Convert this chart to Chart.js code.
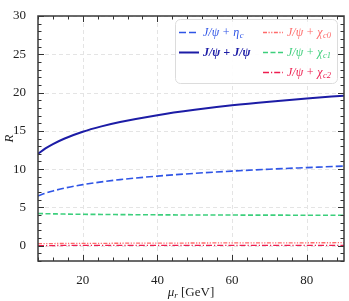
<!DOCTYPE html>
<html>
<head>
<meta charset="UTF-8">
<title>R vs mu_r</title>
<script src="https://cdn.jsdelivr.net/npm/chart.js"></script>
<style>
  body { margin: 0; background: #fff; }
  #c { display: block; }
</style>
</head>
<body>
<canvas id="c" width="349" height="301"></canvas>
<script>
// values
const muR = [8, 10, 12, 15, 20, 25, 30, 40, 50, 60, 70, 80, 90];
const psiPsi = [12.0, 12.7, 13.27, 13.97, 14.88, 15.58, 16.15, 17.05, 17.75, 18.33, 18.81, 19.23, 19.6];
const psiEtac = [6.5, 6.86, 7.15, 7.51, 7.98, 8.33, 8.63, 9.09, 9.45, 9.74, 9.99, 10.2, 10.4];
const psiChic0 = [0.26, 0.27, 0.28, 0.29, 0.30, 0.31, 0.32, 0.34, 0.35, 0.36, 0.37, 0.38, 0.39];
const psiChic1 = [4.20, 4.18, 4.16, 4.13, 4.10, 4.08, 4.06, 4.03, 4.01, 4.00, 3.99, 3.98, 3.97];
const psiChic2 = [0.02, 0.02, 0.02, 0.03, 0.03, 0.03, 0.03, 0.04, 0.04, 0.04, 0.05, 0.05, 0.05];
const xTicks = [20, 40, 60, 80];
const yTicks = [0, 5, 10, 15, 20, 25, 30];

const serif = '"Liberation Serif", "DejaVu Serif", serif';
const colors = {
    etac: '#2f55e6',
    psi: '#1c1ca6',
    chic0: '#ff6a6a',
    chic1: '#3ccf7c',
    chic2: '#ee1d4f'
};

function pts(ys) {
    return muR.map((x, i) => ({ x: x, y: ys[i] }));
}

// legend entries: [main text, subscript, color, dash, column, row, width]
const legendItems = [
    ['J/ψ + η', 'c', colors.etac, [7, 3], 0, 0, 1.6],
    ['J/ψ + J/ψ', '', colors.psi, [], 0, 1, 2],
    ['J/ψ + χ', 'c0', colors.chic0, [4, 1.5, 1.2, 1.5, 1.2, 1.5], 1, 0, 1.3],
    ['J/ψ + χ', 'c1', colors.chic1, [5, 2.5], 1, 1, 1.6],
    ['J/ψ + χ', 'c2', colors.chic2, [6, 2, 1.2, 2], 1, 2, 1.3]
];

const framePlugin = {
    id: 'frame',
    beforeDatasetsDraw(chart) {
        const { ctx, chartArea: a, scales } = chart;
        ctx.save();
        // dashed grid
        ctx.strokeStyle = '#e4e4e4';
        ctx.lineWidth = 1;
        ctx.setLineDash([4, 3]);
        xTicks.forEach(v => {
            const px = Math.round(scales.x.getPixelForValue(v)) + 0.5;
            ctx.beginPath(); ctx.moveTo(px, a.top); ctx.lineTo(px, a.bottom); ctx.stroke();
        });
        yTicks.forEach(v => {
            const py = Math.round(scales.y.getPixelForValue(v)) + 0.5;
            ctx.beginPath(); ctx.moveTo(a.left, py); ctx.lineTo(a.right, py); ctx.stroke();
        });
        ctx.restore();
    },
    afterDatasetsDraw(chart) {
        const { ctx, chartArea: a, scales } = chart;
        ctx.save();
        ctx.setLineDash([]);
        ctx.strokeStyle = '#333';
        ctx.lineWidth = 1;
        // inward ticks on all four sides
        for (let v = 8; v <= 90; v += 4) {
            const px = Math.round(scales.x.getPixelForValue(v)) + 0.5;
            const len = (v % 20 === 0) ? 6 : 3.5;
            ctx.beginPath();
            ctx.moveTo(px, a.bottom); ctx.lineTo(px, a.bottom - len);
            ctx.moveTo(px, a.top); ctx.lineTo(px, a.top + len);
            ctx.stroke();
        }
        for (let v = -2; v <= 30; v += 1) {
            const py = Math.round(scales.y.getPixelForValue(v)) + 0.5;
            const len = (v % 5 === 0) ? 6 : 3.5;
            ctx.beginPath();
            ctx.moveTo(a.left, py); ctx.lineTo(a.left + len, py);
            ctx.moveTo(a.right, py); ctx.lineTo(a.right - len, py);
            ctx.stroke();
        }
        // frame
        ctx.lineWidth = 1.5;
        ctx.strokeStyle = '#3a3a3a';
        ctx.strokeRect(a.left, a.top, a.right - a.left, a.bottom - a.top);

        // legend box
        const bx = 175.5, by = 19.5, bw = 162, bh = 64;
        ctx.fillStyle = 'rgba(255,255,255,0.9)';
        ctx.strokeStyle = '#dcdcdc';
        ctx.lineWidth = 1;
        ctx.beginPath();
        ctx.roundRect(bx, by, bw, bh, 5);
        ctx.fill();
        ctx.stroke();

        const colX = [179, 263];
        const rowY = [32.5, 52.5, 72.5];
        legendItems.forEach(([txt, sub, col, dash, c, r, lw]) => {
            const x0 = colX[c], y0 = rowY[r];
            ctx.strokeStyle = col;
            ctx.lineWidth = lw;
            ctx.setLineDash(dash);
            ctx.beginPath(); ctx.moveTo(x0, y0); ctx.lineTo(x0 + 20, y0); ctx.stroke();
            ctx.setLineDash([]);
            ctx.fillStyle = col;
            ctx.textBaseline = 'middle';
            ctx.textAlign = 'left';
            ctx.font = (r === 1 && c === 0 ? 'bold ' : '') + 'italic 12px ' + serif;
            const tx = x0 + 24;
            ctx.fillText(txt, tx, y0);
            if (sub) {
                const w = ctx.measureText(txt).width;
                ctx.font = 'italic 8.5px ' + serif;
                ctx.fillText(sub, tx + w + 0.5, y0 + 3.5);
            }
        });

        // axis titles
        ctx.fillStyle = '#222';
        ctx.textBaseline = 'alphabetic';
        const t1 = 'μ';
        ctx.font = 'italic 13px ' + serif;
        const w1 = ctx.measureText(t1).width;
        ctx.font = 'italic 9px ' + serif;
        const w2 = ctx.measureText('r').width;
        ctx.font = '13px ' + serif;
        const t3 = ' [GeV]';
        const w3 = ctx.measureText(t3).width;
        const sx = (a.left + a.right) / 2 - (w1 + w2 + w3) / 2;
        const sy = 296;
        ctx.font = 'italic 13px ' + serif;
        ctx.fillText(t1, sx, sy);
        ctx.font = 'italic 9px ' + serif;
        ctx.fillText('r', sx + w1, sy + 2);
        ctx.font = '13px ' + serif;
        ctx.fillText(t3, sx + w1 + w2, sy);

        ctx.save();
        ctx.translate(13, (a.top + a.bottom) / 2);
        ctx.rotate(-Math.PI / 2);
        ctx.textAlign = 'center';
        ctx.font = 'italic 13px ' + serif;
        ctx.fillText('R', 0, 0);
        ctx.restore();

        ctx.restore();
    }
};

new Chart(document.getElementById('c'), {
    type: 'line',
    data: {
        datasets: [
            { label: 'J/ψ + η_c', data: pts(psiEtac), borderColor: colors.etac, borderWidth: 1.6, borderDash: [7, 3] },
            { label: 'J/ψ + J/ψ', data: pts(psiPsi), borderColor: colors.psi, borderWidth: 2 },
            { label: 'J/ψ + χ_c0', data: pts(psiChic0), borderColor: colors.chic0, borderWidth: 1.3, borderDash: [4, 1.5, 1.2, 1.5, 1.2, 1.5] },
            { label: 'J/ψ + χ_c1', data: pts(psiChic1), borderColor: colors.chic1, borderWidth: 1.6, borderDash: [5, 2.5] },
            { label: 'J/ψ + χ_c2', data: pts(psiChic2), borderColor: colors.chic2, borderWidth: 1.3, borderDash: [6, 2, 1.2, 2] }
        ]
    },
    options: {
        responsive: false,
        animation: false,
        events: [],
        layout: { padding: { top: 16, right: 5, left: 0, bottom: 0 } },
        elements: {
            point: { radius: 0 },
            line: { tension: 0.4, cubicInterpolationMode: 'monotone', fill: false }
        },
        plugins: {
            legend: { display: false },
            tooltip: { enabled: false }
        },
        scales: {
            x: {
                type: 'linear',
                min: 8,
                max: 90,
                afterBuildTicks: s => { s.ticks = xTicks.map(v => ({ value: v })); },
                afterFit: s => { s.height = 40; },
                grid: { display: false },
                border: { display: false },
                ticks: { color: '#222', font: { family: serif, size: 13 }, padding: 4, maxRotation: 0 }
            },
            y: {
                min: -2,
                max: 30,
                afterBuildTicks: s => { s.ticks = yTicks.map(v => ({ value: v })); },
                afterFit: s => { s.width = 38; },
                grid: { display: false },
                border: { display: false },
                ticks: { color: '#222', font: { family: serif, size: 13 }, padding: 4 }
            }
        }
    },
    plugins: [framePlugin]
});
</script>
</body>
</html>
